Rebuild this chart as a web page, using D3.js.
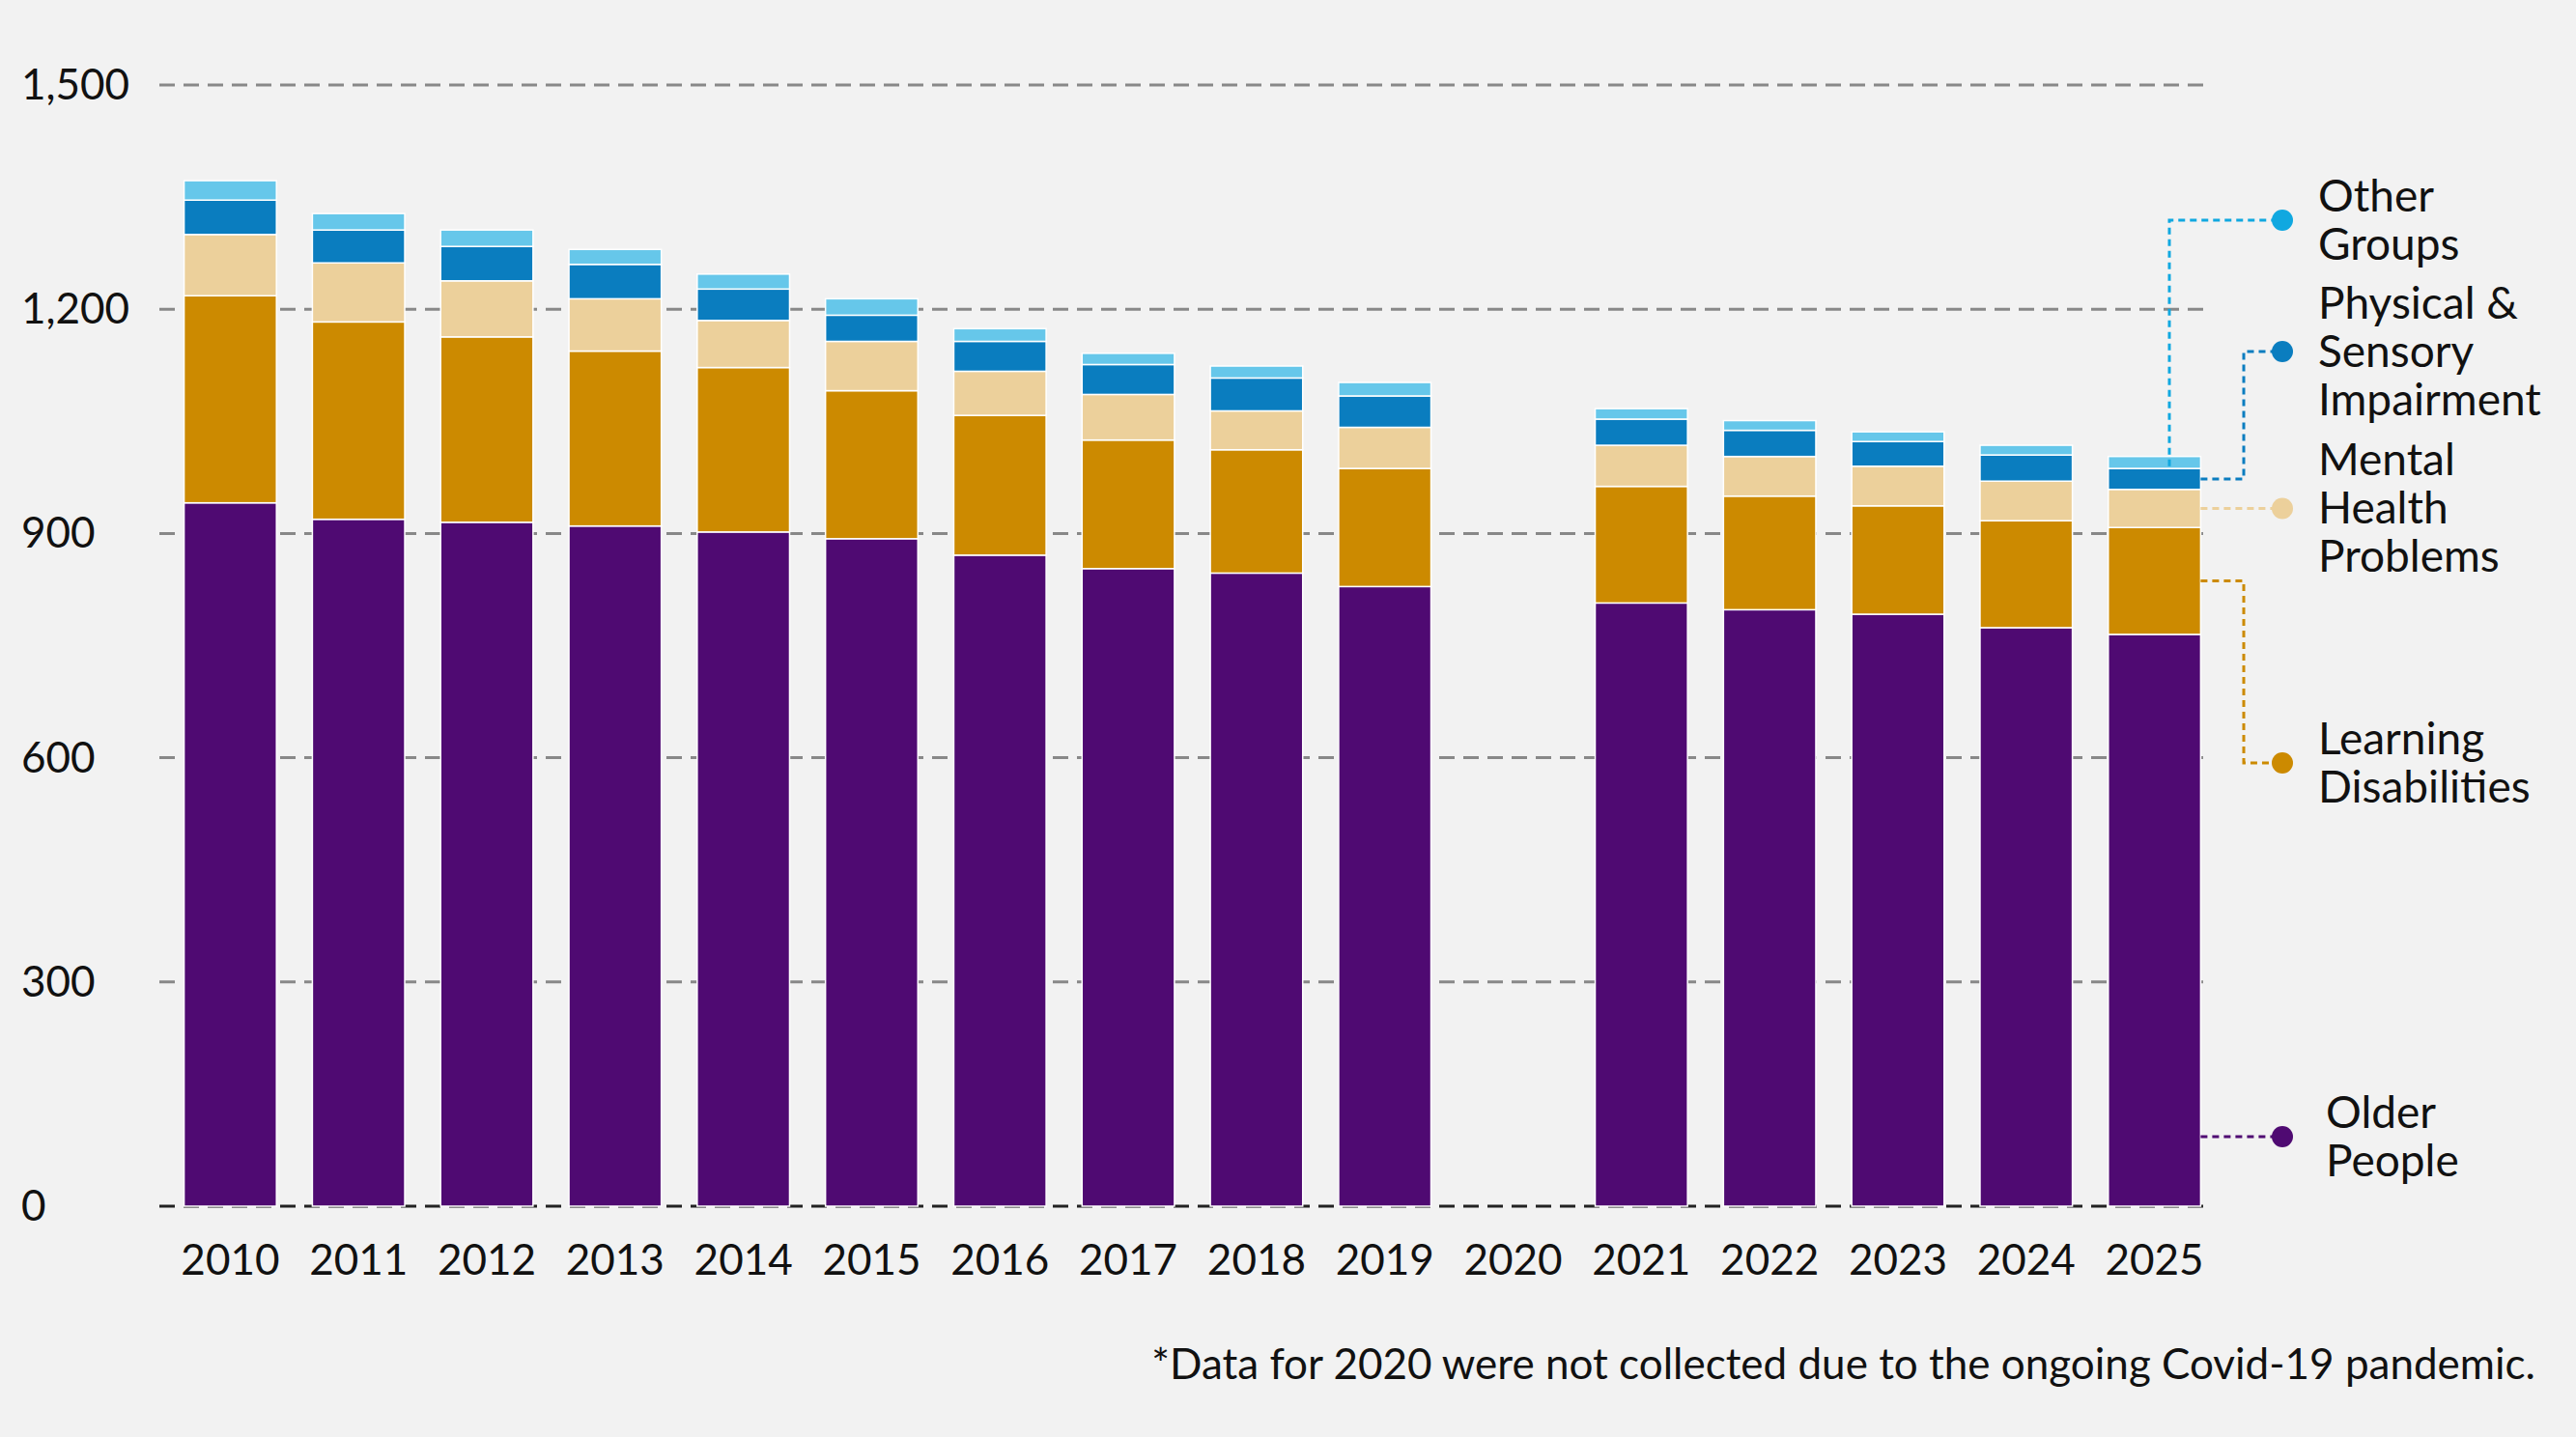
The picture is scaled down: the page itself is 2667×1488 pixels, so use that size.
<!DOCTYPE html>
<html><head><meta charset="utf-8">
<script src="https://cdn.jsdelivr.net/npm/d3@7"></script>
<style>body{margin:0;background:#f2f2f2}svg{display:block}text{font-family:Lato,"Open Sans",sans-serif;fill:#111}</style>
</head><body><div id="chart"></div>
<script>
var years = ["2010","2011","2012","2013","2014","2015","2016","2017","2018","2019","2020","2021","2022","2023","2024","2025"];
// cumulative tops, converted to per-group values below
var olderPeople   = [941,919,915,910,902,893,871,853,847,829,0,807,798,792,774,765];
var learningDis   = [277,264,248,234,220,198,187,172,165,158,0,156,152,145,143,143];
var mentalHealth  = [82,79,75,70,63,66,59,61,52,55,0,55,53,53,53,51];
var physSensory   = [46,44,46,46,42,35,40,40,44,42,0,35,35,33,35,28];
var otherGroups   = [26,22,22,20,20,22,17,15,16,18,0,14,13,13,13,16];
var yTicks = [0,300,600,900,1200,1500];

var width = 2667, height = 1488;
var keys = ["older","ld","mh","ps","other"];
var colors = {older:"#4f0a72", ld:"#cc8a00", mh:"#ecd09b", ps:"#0a7dbf", other:"#66c7ea"};
var dotColors = {older:"#4f0a72", ld:"#cc8a00", mh:"#ecd09b", ps:"#0a7dbf", other:"#10a8e0"};

var rows = years.map(function(y, i) {
    return {year:y, older:olderPeople[i], ld:learningDis[i], mh:mentalHealth[i], ps:physSensory[i], other:otherGroups[i]};
});

var svg = d3.select("#chart").append("svg").attr("width", width).attr("height", height);
svg.append("rect").attr("width", width).attr("height", height).attr("fill", "#f2f2f2");

var x = d3.scaleBand().domain(years).range([172, 2297]).paddingInner(0.28).paddingOuter(0.14);
var y = d3.scaleLinear().domain([0, 1500]).range([1249, 88]);

// grid
svg.selectAll(".grid").data(yTicks).enter().append("line")
    .attr("x1", 165).attr("x2", 2290)
    .attr("y1", d => y(d)).attr("y2", d => y(d))
    .attr("stroke", d => d === 0 ? "#222" : "#888").attr("stroke-width", 3)
    .attr("stroke-dasharray", "16,9");

svg.selectAll(".ytick").data(yTicks).enter().append("text")
    .attr("x", 22).attr("y", d => y(d) + 15)
    .style("font-size", "44px")
    .text(d => d3.format(",")(d));

var stack = d3.stack().keys(keys)(rows);
svg.selectAll(".layer").data(stack).enter().append("g")
    .attr("fill", d => colors[d.key])
    .selectAll("rect").data(d => d.filter(p => p[1] > 0)).enter().append("rect")
    .attr("x", d => x(d.data.year))
    .attr("width", x.bandwidth())
    .attr("y", d => y(d[1]))
    .attr("height", d => y(d[0]) - y(d[1]))
    .attr("stroke", "#fff").attr("stroke-width", 1.5);

svg.selectAll(".xlab").data(years).enter().append("text")
    .attr("x", d => x(d) + x.bandwidth() / 2).attr("y", 1320)
    .attr("text-anchor", "middle").style("font-size", "44px")
    .text(d => d);

// legend with leaders
var last = rows[rows.length - 1];
var bx = x("2025") + x.bandwidth();
function mid(k) { var s = stack.find(l => l.key === k)[15]; return y((s[0] + s[1]) / 2); }
var dotX = 2363, elbowX = 2323;
var legend = [
    {k:"other", lines:["Other","Groups"], dy:228, path:[[2246, y(990)],[2246,228],[dotX,228]]},
    {k:"ps", lines:["Physical &","Sensory","Impairment"], dy:364, path:[[bx, mid("ps")],[elbowX, mid("ps")],[elbowX,364],[dotX,364]]},
    {k:"mh", lines:["Mental","Health","Problems"], dy:mid("mh"), path:[[bx, mid("mh")],[dotX, mid("mh")]]},
    {k:"ld", lines:["Learning","Disabilities"], dy:790, path:[[bx, mid("ld")],[elbowX, mid("ld")],[elbowX,790],[dotX,790]]},
    {k:"older", lines:["Older","People"], dy:1177, path:[[bx,1177],[dotX,1177]]}
];
var textTop = {other:215, ps:360, mh:545, ld:782, older:1163};
legend.forEach(function(l) {
    svg.append("path").attr("d", d3.line()(l.path)).attr("fill", "none")
        .attr("stroke", dotColors[l.k]).attr("stroke-width", 3).attr("stroke-dasharray", "7,5");
    svg.append("circle").attr("cx", dotX).attr("cy", l.dy).attr("r", 11).attr("fill", dotColors[l.k]);
    var n = l.lines.length;
    var t = svg.append("text").attr("x", 2400).style("font-size", "46px");
    l.lines.forEach(function(s, i) {
        t.append("tspan").attr("x", l.k === "older" ? 2408 : 2400)
            .attr("y", l.dy + (i - (n - 1) / 2) * 50 + 16).text(s);
    });
});

svg.append("text").attr("x", 2625).attr("y", 1428).attr("text-anchor", "end")
    .style("font-size", "44px").text("*Data for 2020 were not collected due to the ongoing Covid-19 pandemic.");
</script></body></html>
